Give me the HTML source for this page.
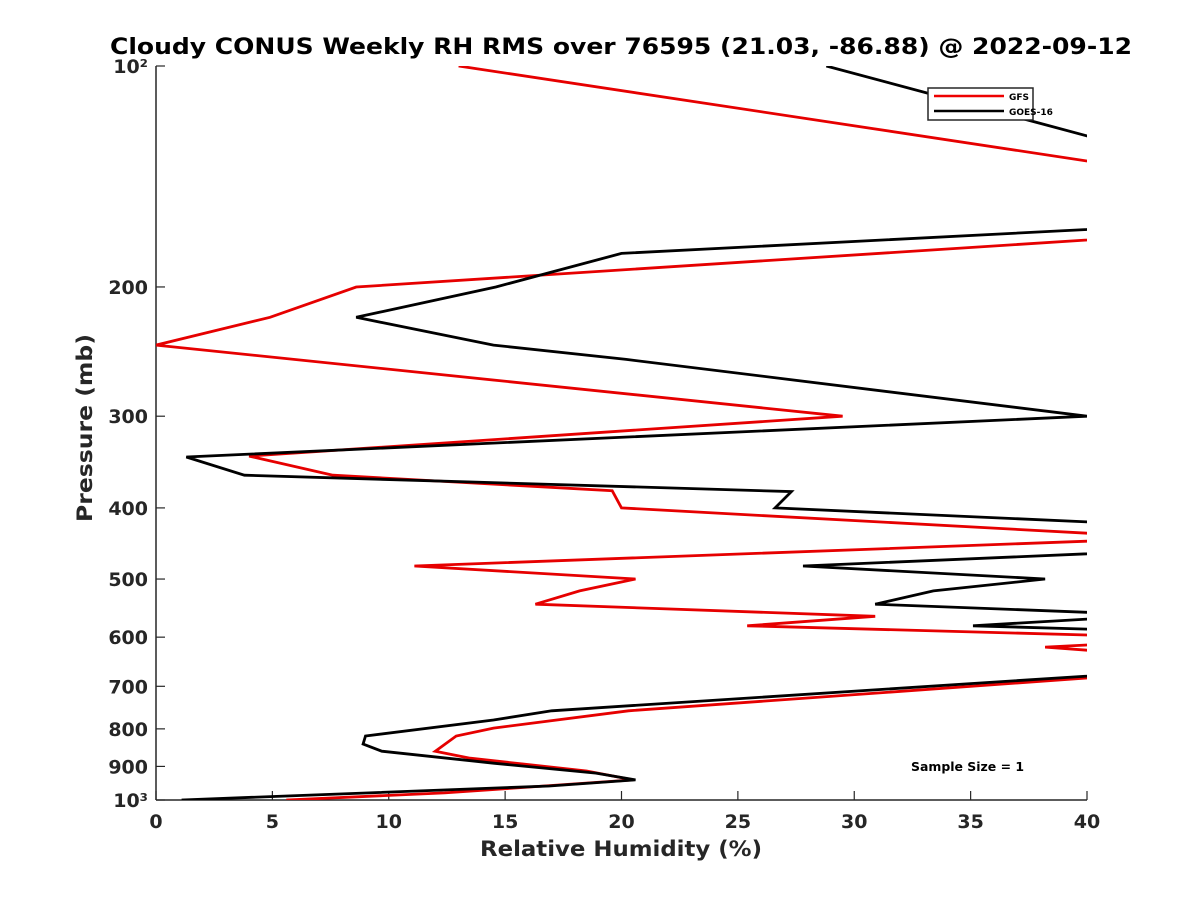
<!DOCTYPE html>
<html><head><meta charset="utf-8"><style>
body{margin:0;background:#fff;}
svg text{font-family:"DejaVu Sans","Liberation Sans",sans-serif;font-weight:bold;fill:#262626;}
</style></head><body>
<svg id="chart" width="1200" height="900" viewBox="0 0 1200 900" xmlns="http://www.w3.org/2000/svg">
<defs><clipPath id="plotclip"><rect x="156" y="66" width="931" height="734"/></clipPath></defs>
<rect width="1200" height="900" fill="#fff"/>
<text x="110" y="54" textLength="1022" lengthAdjust="spacingAndGlyphs" font-size="22" style="fill:#000">Cloudy CONUS Weekly RH RMS over 76595 (21.03, -86.88) @ 2022-09-12</text>
<g id="axes"></g>
<g id="series" clip-path="url(#plotclip)"></g>
<g>
<rect x="928" y="88" width="105" height="32" fill="#fff" stroke="#262626" stroke-width="1.5"/>
<line x1="934" y1="96" x2="1004" y2="96" stroke="#e00" stroke-width="2.5"/>
<text x="1009" y="100" font-size="9" style="fill:#000">GFS</text>
<line x1="934" y1="111" x2="1004" y2="111" stroke="#000" stroke-width="2.5"/>
<text x="1009" y="115" font-size="9" style="fill:#000">GOES-16</text>
</g>
<text x="911" y="771" textLength="113" lengthAdjust="spacingAndGlyphs" font-size="12" style="fill:#000">Sample Size = 1</text>
<text x="480" y="856" textLength="282" lengthAdjust="spacingAndGlyphs" font-size="21">Relative Humidity (%)</text>
<text transform="translate(92,522) rotate(-90)" textLength="188" lengthAdjust="spacingAndGlyphs" font-size="21">Pressure (mb)</text>
</svg>
<script>
const xTicks=[0,5,10,15,20,25,30,35,40];
const yTicks=[100,200,300,400,500,600,700,800,900,1000];
const yTickLabels=["10²","200","300","400","500","600","700","800","900","10³"];
const goesP=[100,124.5,150,167,180,200,220,240,251,300,341,361,380,400,418,440,462,480,500,519,541,555,561,567,579,585,630,678,756,778,818,839,858,891,919,939,957,1000];
const goesV=[28.8,40,46,40,20.0,14.6,8.6,14.5,20.2,40,1.3,3.8,27.3,26.6,40,46,40,27.8,38.2,33.4,30.9,40,42,40,35.1,40,46,40,17.0,14.5,9.0,8.9,9.7,14.5,18.9,20.6,16.9,1.1];
const gfsP=[100,134.7,150,172.6,200,220,240,300,340,361,379,400,433,438,444,480,500,519,541,562,579,596,605,615,619,625,650,682,756,798,818,858,877,913,939,978,1000];
const gfsV=[13.0,40,50,40,8.6,4.9,0,29.5,4.0,7.6,19.6,20.0,40,44,40,11.1,20.6,18.2,16.3,30.9,25.4,40,44,40,38.2,40,46,40,20.3,14.5,12.9,12.0,13.5,18.5,20.5,12.4,5.6];
const X0=156,X1=1087,Y0=66,Y1=800;
function xs(v){return X0+(v-0)/(40-0)*(X1-X0);}
function ys(p){return Y0+(Math.log10(p)-2)/(3-2)*(Y1-Y0);}
const NS="http://www.w3.org/2000/svg";
const axes=document.getElementById('axes');
function mk(tag,attrs,parent){const e=document.createElementNS(NS,tag);for(const k in attrs)e.setAttribute(k,attrs[k]);parent.appendChild(e);return e;}
let l=mk('line',{x1:X0,y1:Y0,x2:X0,y2:Y1,stroke:'#262626','stroke-width':1.5},axes);


l=mk('line',{x1:X0,y1:Y1,x2:X1,y2:Y1,stroke:'#262626','stroke-width':1.5},axes);


xTicks.forEach(v=>{
  const x=xs(v);
  mk('line',{x1:x,y1:Y1,x2:x,y2:Y1-9,stroke:'#262626','stroke-width':1.2},axes);
  const t=mk('text',{x:x,y:Y1+28,'text-anchor':'middle','font-size':19},axes);
  t.textContent=v;
  
  
});
yTicks.forEach((p,i)=>{
  const y=ys(p);
  mk('line',{x1:X0,y1:y,x2:X0+9,y2:y,stroke:'#262626','stroke-width':1.2},axes);
  const t=mk('text',{x:X0-8,y:y+7,'text-anchor':'end','font-size':19},axes);
  t.textContent=yTickLabels[i];
  
  
});
const series=document.getElementById('series');
function draw(P,V,color,name){
  const pts=P.map((p,i)=>xs(V[i]).toFixed(1)+','+ys(p).toFixed(1)).join(' ');
  const pl=mk('polyline',{points:pts,fill:'none',stroke:color,'stroke-width':2.8,'stroke-linejoin':'miter'},series);
  
  
}
draw(gfsP,gfsV,'#e60000','gfs-line');
draw(goesP,goesV,'#000','goes16-line');
</script>
</body></html>
